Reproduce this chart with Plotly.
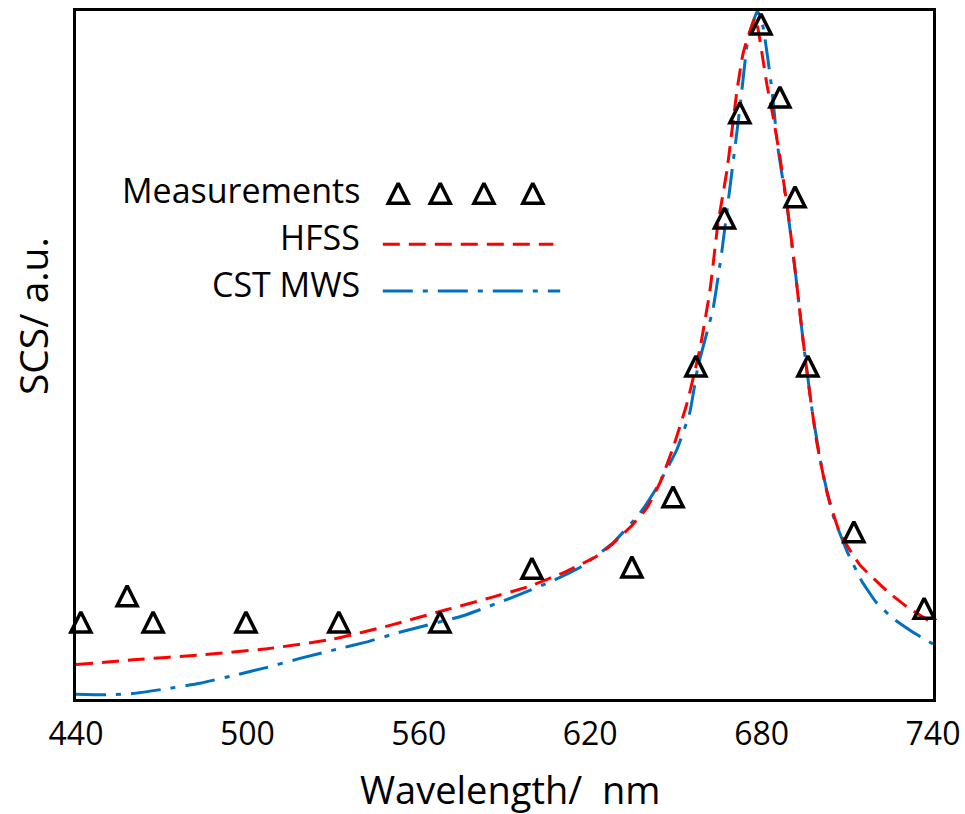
import plotly.graph_objects as go

# ---- Data ----
meas_x = [441.7, 457.9, 467.0, 499.5, 532.0, 567.4, 599.6, 634.6, 649.0, 657.0,
          667.0, 672.4, 679.8, 686.4, 691.7, 696.2, 712.3, 736.9]
meas_y = [0.112, 0.150, 0.112, 0.112, 0.112, 0.112, 0.190, 0.192, 0.294, 0.484,
          0.699, 0.852, 0.981, 0.875, 0.730, 0.484, 0.243, 0.132]

hfss_x = [440.0, 460.0, 483.4, 506.9, 530.0, 549.9, 569.9, 584.9, 598.9,
          611.9, 622.4, 628.0, 635.0, 639.9, 644.4, 649.0, 653.9, 658.4, 661.9,
          664.7, 667.9, 671.4, 673.5, 675.9, 677.7, 678.7, 681.9, 684.0, 686.4,
          689.2, 692.4, 694.5, 696.9, 699.4, 702.9, 707.4, 714.4, 723.9, 730.9,
          740.0]
hfss_y = [0.050, 0.057, 0.064, 0.073, 0.087, 0.107, 0.130, 0.147, 0.164,
          0.186, 0.208, 0.226, 0.254, 0.278, 0.314, 0.365, 0.430, 0.509, 0.593,
          0.690, 0.769, 0.885, 0.938, 0.971, 0.990, 0.975, 0.892, 0.847, 0.788,
          0.709, 0.599, 0.522, 0.443, 0.371, 0.300, 0.241, 0.195, 0.157, 0.134,
          0.110]

cst_x = [440.0, 451.9, 460.0, 471.9, 483.4, 495.0, 506.9, 518.4, 530.0, 541.9,
         552.4, 575.5, 593.0, 607.0, 616.4, 628.0, 637.4, 643.4, 650.4,
         654.9, 657.7, 663.0, 666.1, 668.9, 672.4, 675.2, 678.5, 680.5, 683.6,
         685.7, 688.9, 691.7, 694.5, 698.0, 701.2, 705.0, 710.0, 715.0, 720.0,
         726.0, 733.0, 740.0]
cst_y = [0.007, 0.006, 0.008, 0.015, 0.023, 0.034, 0.046, 0.059, 0.071, 0.083,
         0.096, 0.121, 0.148, 0.172, 0.191, 0.227, 0.270, 0.308, 0.363,
         0.417, 0.483, 0.567, 0.651, 0.743, 0.859, 0.958, 1.000, 0.977, 0.886,
         0.801, 0.716, 0.625, 0.522, 0.410, 0.333, 0.267, 0.214, 0.172, 0.141,
         0.117, 0.097, 0.080]

x_ticks = [440, 500, 560, 620, 680, 740]
x_title = "Wavelength/  nm"
y_title = "SCS/ a.u."
legend_labels = ["Measurements", "HFSS", "CST MWS"]

# legend geometry (fractions of the plot area)
leg_text_x = 0.334
leg_rows_y = [0.740, 0.671, 0.603]
leg_tri_x = [0.376, 0.425, 0.476, 0.533]
leg_line_x = {"HFSS": [0.358, 0.557], "CST MWS": [0.358, 0.565]}
leg_line_y = {"HFSS": 0.661, "CST MWS": 0.593}

RED = "#FF0000"
BLUE = "#0070C0"
FONT = "Open Sans"
tri_marker = dict(symbol="arrow-down-open", angle=180, standoff=10, size=20,
                  color="black", line=dict(color="black", width=3.5))

fig = go.Figure()
fig.add_trace(go.Scatter(x=cst_x, y=cst_y, mode="lines", name="CST MWS",
                         line=dict(color=BLUE, width=3, dash="30px,10px,5px,10px",
                                   shape="spline", smoothing=0.4)))
fig.add_trace(go.Scatter(x=hfss_x, y=hfss_y, mode="lines", name="HFSS",
                         line=dict(color=RED, width=3, dash="17px,9px",
                                   shape="spline", smoothing=0.4)))
fig.add_trace(go.Scatter(x=meas_x, y=meas_y, mode="markers", name="Measurements",
                         marker=tri_marker, cliponaxis=False))

# custom legend on an overlay axis spanning the plot area
fig.add_trace(go.Scatter(x=leg_tri_x, y=[0.735] * 4, mode="markers",
                         marker=tri_marker, xaxis="x2", yaxis="y2", cliponaxis=False))
fig.add_trace(go.Scatter(x=leg_line_x["HFSS"], y=[leg_line_y["HFSS"]] * 2, mode="lines",
                         line=dict(color=RED, width=3, dash="17px,9px"),
                         xaxis="x2", yaxis="y2"))
fig.add_trace(go.Scatter(x=leg_line_x["CST MWS"], y=[leg_line_y["CST MWS"]] * 2, mode="lines",
                         line=dict(color=BLUE, width=3, dash="30px,10px,5px,10px"),
                         xaxis="x2", yaxis="y2"))

for lab, yy in zip(legend_labels, leg_rows_y):
    fig.add_annotation(text=lab, x=leg_text_x, y=yy, xref="paper", yref="paper",
                       xanchor="right", yanchor="middle", showarrow=False,
                       font=dict(family=FONT, size=34, color="black"))

fig.add_annotation(text=x_title, x=0.506, y=-0.131, xref="paper", yref="paper",
                   xanchor="center", yanchor="middle", showarrow=False,
                   font=dict(family=FONT, size=38, color="black"))
fig.add_annotation(text=y_title, x=-0.051, y=0.557, xref="paper", yref="paper",
                   xanchor="center", yanchor="middle", showarrow=False, textangle=-90,
                   font=dict(family=FONT, size=39, color="black"))

fig.update_layout(
    template="none",
    width=965, height=814,
    margin=dict(l=76, r=32, t=11, b=115, autoexpand=False),
    paper_bgcolor="white", plot_bgcolor="white",
    showlegend=False,
    font=dict(family=FONT, color="black"),
    xaxis=dict(range=[440, 740], tickvals=x_ticks, ticktext=[str(v) for v in x_ticks],
               showgrid=False, zeroline=False, showline=True, mirror=True,
               linecolor="black", linewidth=3, ticks="", ticklabelstandoff=5,
               automargin=False,
               tickfont=dict(family=FONT, size=32, color="black")),
    yaxis=dict(range=[0, 1], showticklabels=False, showgrid=False, zeroline=False,
               showline=True, mirror=True, linecolor="black", linewidth=3, ticks="",
               automargin=False),
    xaxis2=dict(range=[0, 1], overlaying="x", visible=False),
    yaxis2=dict(range=[0, 1], overlaying="y", visible=False),
)

fig.write_html("out.html")
